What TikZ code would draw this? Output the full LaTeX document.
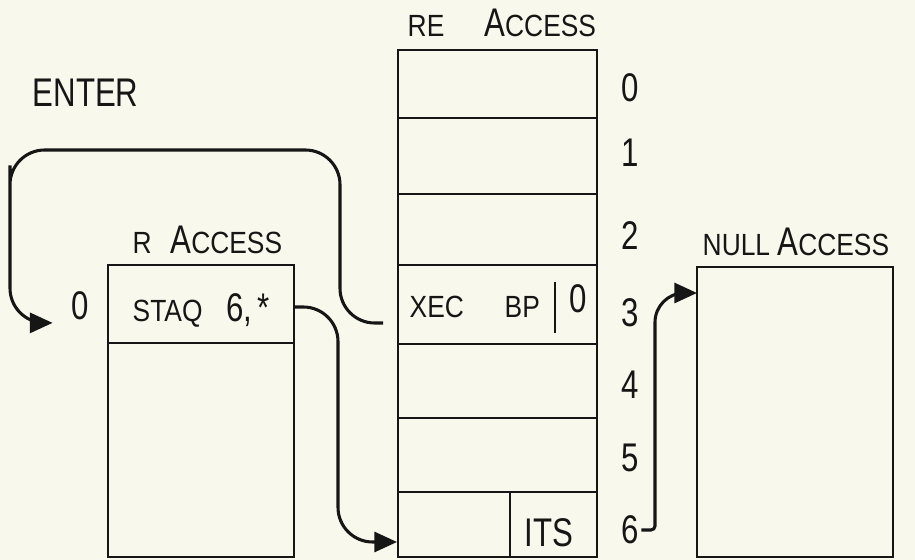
\documentclass[tikz,border=0pt]{standalone}
\usepackage{fontspec}
\usepackage{graphicx}
\setmainfont{Liberation Sans}
\usetikzlibrary{arrows.meta}

\definecolor{paper}{RGB}{248,248,236}
\definecolor{ink}{RGB}{22,22,22}
\newcommand{\lowcap}[1]{\scalebox{0.86}[1]{\fontsize{23}{23}\selectfont #1}}
\newcommand{\highcap}[1]{\scalebox{0.78}[1]{\fontsize{30}{30}\selectfont #1}}

\tikzset{every picture/.style={line width=2.1pt}}
\tikzset{
  lbl/.style={inner sep=1pt, text=ink},
  link/.style={draw=ink, line width=2.3pt, arrows={-Triangle[length=17pt,width=15pt,fill=ink]}},
}

\begin{document}
\begin{tikzpicture}[x=0.75pt,y=0.75pt,yscale=-1,xscale=1]
\fill[paper] (0,0) rectangle (915,560);
\useasboundingbox (0,0) rectangle (915,560);

%Shape: Rectangle (RE access)
\draw[ink] (398,50) rectangle (597,557);
%Straight Lines
\foreach \y in {118,194,265,344,418,492}
  \draw[ink] (398,\y) -- (597,\y);
\draw[ink] (510,492) -- (510,557);
\draw[ink] (555,282) -- (555,333);

%Shape: Rectangle (R access)
\draw[ink] (108,265) rectangle (294,557);
\draw[ink] (108,343) -- (294,343);

%Shape: Rectangle (NULL access)
\draw[ink] (697,267) rectangle (893,557);

%Labels
\node[lbl, anchor=base west] (enter) at (30,107) {\highcap{ENTER}};
\node[lbl, anchor=base west] (retitle) at (405,37) {\lowcap{RE}\hspace{30pt}\highcap{A}\lowcap{CCESS}};
\node[lbl, anchor=base west] (rtitle) at (130,253) {\lowcap{R}\hspace{14pt}\highcap{A}\lowcap{CCESS}};
\node[lbl, anchor=base west] (nulltitle) at (700,255) {\lowcap{NULL }\highcap{A}\lowcap{CCESS}};

\node[lbl] (zero) at (80,306) {\highcap{0}};
\node[lbl, anchor=base west] (staq) at (130,321) {\lowcap{STAQ}\hspace{18pt}\highcap{6,\,*}};
\node[lbl, anchor=base west] (xec) at (407,317) {\lowcap{XEC}};
\node[lbl, anchor=base west] (bp) at (502,317) {\lowcap{BP}};
\node[lbl] (bpzero) at (578,299) {\highcap{0}};
\node[lbl] (its) at (549,533) {\highcap{ITS}};

%Row numbers
\foreach \n/\y in {0/88,1/153,2/236,3/313,4/385,5/458,6/530}
  \node[lbl] (n\n) at (630,\y) {\highcap{\n}};

%Curve Lines
\coordinate (xecout) at (383,323);
\coordinate (staqout) at (295,307);
\coordinate (itsin) at (397,542);
\coordinate (nullin) at (697,293);

\draw[link, rounded corners=26pt, shorten >=12pt] (xecout) -| (340,150) -| (10,200) |- (zero.south west);
\draw[link, rounded corners=26pt] (staqout) -| (338,470) |- (itsin);
\draw[link] (n6.east) [rounded corners=3pt] -| (655,420) [rounded corners=22pt] |- (nullin);

\end{tikzpicture}
\end{document}
